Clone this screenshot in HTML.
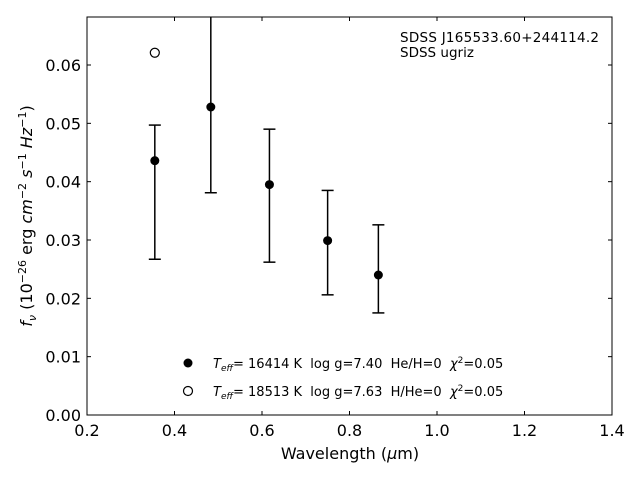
<!DOCTYPE html>
<html><head><meta charset="utf-8"><style>
body{margin:0;background:#fff;}
svg{display:block;font-family:"DejaVu Sans","Liberation Sans",sans-serif;}
text{white-space:pre;}
</style></head><body>
<svg id="c" width="640" height="480" viewBox="0 0 640 480">
<rect x="0" y="0" width="640" height="480" fill="#fff"/>
<g id="marks"></g>
<g id="axes"></g>
<rect x="87" y="17" width="525" height="398" fill="none" stroke="#000" stroke-width="1"/>
<text x="400" y="42" font-size="13.5" textLength="199">SDSS J165533.60+244114.2</text>
<text x="400" y="57" font-size="13.5">SDSS ugriz</text>
<text x="350" y="459" font-size="16" text-anchor="middle">Wavelength (<tspan font-style="italic">μ</tspan>m)</text>
<text transform="translate(32,216) rotate(-90)" font-size="16" text-anchor="middle"><tspan font-style="italic">f</tspan><tspan font-style="italic" font-size="11" dy="4">ν</tspan><tspan dy="-4"> (10</tspan><tspan font-size="11" dy="-6">−26</tspan><tspan dy="6"> erg </tspan><tspan font-style="italic">cm</tspan><tspan font-size="11" dy="-6">−2</tspan><tspan dy="6"> </tspan><tspan font-style="italic">s</tspan><tspan font-size="11" dy="-6">−1</tspan><tspan dy="6"> </tspan><tspan font-style="italic">Hz</tspan><tspan font-size="11" dy="-6">−1</tspan><tspan dy="6">)</tspan></text>
<g>
<circle cx="188" cy="363" r="4.5" fill="#000"/>
<text x="213" y="368" font-size="13"><tspan font-style="italic">T</tspan><tspan font-style="italic" font-size="9" dy="3">eff</tspan><tspan dy="-3">= 16414 K  log g=7.40  He/H=0  </tspan><tspan font-style="italic">χ</tspan><tspan font-size="9" dy="-5">2</tspan><tspan dy="5">=0.05</tspan></text>
<circle cx="188" cy="391" r="4.5" fill="#fff" stroke="#000" stroke-width="1.2"/>
<text x="213" y="396" font-size="13"><tspan font-style="italic">T</tspan><tspan font-style="italic" font-size="9" dy="3">eff</tspan><tspan dy="-3">= 18513 K  log g=7.63  H/He=0  </tspan><tspan font-style="italic">χ</tspan><tspan font-size="9" dy="-5">2</tspan><tspan dy="5">=0.05</tspan></text>
</g>
</svg>
<script>
const wavelengths=[0.355,0.483,0.617,0.750,0.866];
const fluxes=[0.0436,0.0528,0.0395,0.0299,0.0240];
const errUpper=[0.0061,0.0200,0.0095,0.0086,0.0086];
const errLower=[0.0169,0.0147,0.0133,0.0093,0.0065];
const modelWave=[0.355];
const modelFlux=[0.0621];
const xTicks=[0.2,0.4,0.6,0.8,1.0,1.2,1.4];
const yTicks=[0.00,0.01,0.02,0.03,0.04,0.05,0.06];

const NS="http://www.w3.org/2000/svg";
const X0=87,X1=612,Y0=415,Y1=17;
const xs=v=>X0+(v-0.2)/(1.2)*(X1-X0);
const ys=v=>Y0-v/0.06*350;
const clampY=y=>Math.max(Y1,Math.min(Y0,y));
function mk(tag,attrs,parent){const e=document.createElementNS(NS,tag);for(const k in attrs)e.setAttribute(k,attrs[k]);parent.appendChild(e);return e;}
const marks=document.getElementById('marks'),axes=document.getElementById('axes');

xTicks.forEach(t=>{
  const x=xs(t);
  const l=mk('line',{x1:x,x2:x,y1:Y0,y2:Y0-4,stroke:'#000'},axes);
  
  
  const l2=mk('line',{x1:x,x2:x,y1:Y1,y2:Y1+4,stroke:'#000'},axes);
  
  
  const tx=mk('text',{x:x,y:Y0+21,'font-size':16,'text-anchor':'middle'},axes);
  tx.textContent=t.toFixed(1);
  
  
});
yTicks.forEach(t=>{
  const y=ys(t);
  const l=mk('line',{x1:X0,x2:X0+4,y1:y,y2:y,stroke:'#000'},axes);
  
  
  const l2=mk('line',{x1:X1,x2:X1-4,y1:y,y2:y,stroke:'#000'},axes);
  
  
  const tx=mk('text',{x:X0-6,y:y+6,'font-size':16,'text-anchor':'end'},axes);
  tx.textContent=t.toFixed(2);
  
  
});

wavelengths.forEach((w,i)=>{
  const x=xs(w),y=ys(fluxes[i]);
  const rawTop=ys(fluxes[i]+errUpper[i]),rawBot=ys(fluxes[i]-errLower[i]);
  const top=clampY(rawTop),bot=clampY(rawBot);
  const g=mk('g',{stroke:'#000','stroke-width':1.5},marks);
  
  
  mk('line',{x1:x,x2:x,y1:top,y2:bot},g);
  if(rawTop>Y1) mk('line',{x1:x-6,x2:x+6,y1:top,y2:top},g);
  if(rawBot<Y0) mk('line',{x1:x-6,x2:x+6,y1:bot,y2:bot},g);
  const c=mk('circle',{cx:x,cy:y,r:4.5,fill:'#000'},marks);
  
  
});
modelWave.forEach((w,i)=>{
  const c=mk('circle',{cx:xs(w),cy:ys(modelFlux[i]),r:4.5,fill:'#fff',stroke:'#000','stroke-width':1.2},marks);
  
  
});
</script>
</body></html>
